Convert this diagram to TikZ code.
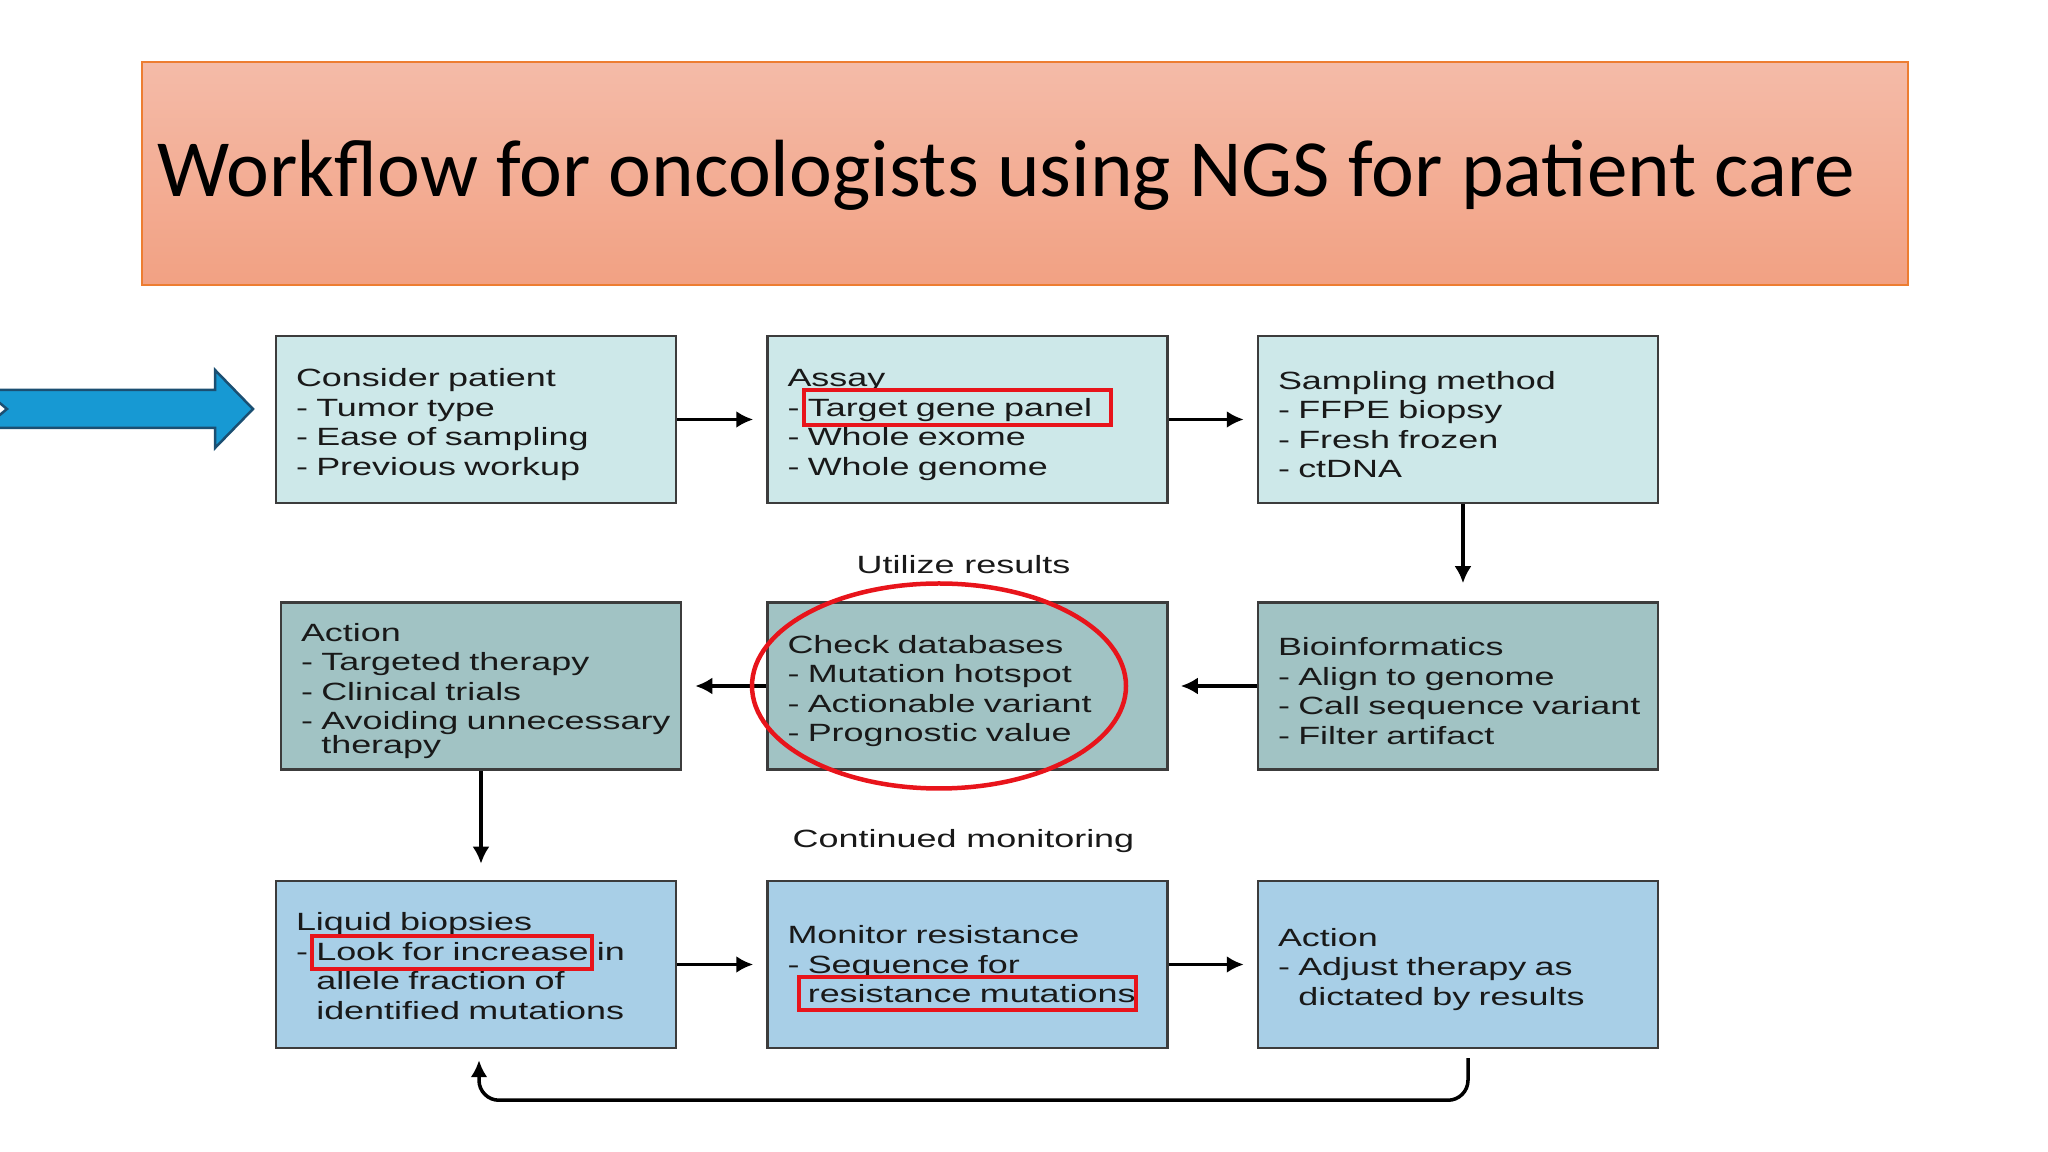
\documentclass[tikz,border=0pt]{standalone}
\usepackage{fontspec}
\setmainfont{Liberation Sans}
\newfontfamily\titlefont{Carlito}
\newfontfamily\boxfont[FakeStretch=1.44]{Liberation Sans}
\usetikzlibrary{positioning,arrows.meta,calc}
\definecolor{paleteal}{HTML}{CDE8E9}
\definecolor{greyteal}{HTML}{A1C3C4}
\definecolor{skyblue}{HTML}{A8CFE7}
\definecolor{titletop}{HTML}{F4BBA8}
\definecolor{titlebottom}{HTML}{F2A183}
\definecolor{titleline}{HTML}{ED7D31}
\definecolor{arrowblue}{HTML}{1799D3}
\definecolor{arrowline}{HTML}{1B4F72}
\definecolor{boxline}{HTML}{3C3C3C}
\definecolor{markred}{HTML}{E8141B}
\newcommand\indnt{\phantom{- }}

\begin{document}
\begin{tikzpicture}[x=0.1mm,y=-0.1mm,
    stepbox/.style={draw=boxline, line width=0.25mm, minimum width=40mm, minimum height=16.7mm, inner xsep=2mm, text width=36mm, align=left, text=black!90, font=\boxfont\fontsize{7.1}{8.4}\selectfont, execute at begin node={\rule{0pt}{#1}}},
    stepbox/.default=8pt,
    note/.style={text=black!90, font=\boxfont\fontsize{7.1}{8.4}\selectfont},
    flow/.style={-{Latex[length=1.7mm,width=1.7mm]}, line width=1pt},
    hilite/.style={draw=markred, line width=0.45mm}]

    \useasboundingbox (0,0) rectangle (2048,1152);

    \node[draw=titleline, line width=0.2mm, top color=titletop, bottom color=titlebottom, minimum width=176.6mm, minimum height=22.3mm, anchor=north west] (banner) at (141,61) {};
    \node[anchor=base west, inner sep=0pt, font=\titlefont\fontsize{23.1}{27}\selectfont] (title) at ([xshift=1.6mm,yshift=-2.35mm]banner.west) {Workflow for oncologists using NGS for patient care};

    \begin{scope}
        \clip (0,0) rectangle (2048,1152);
        \draw[fill=arrowblue, draw=arrowline, line width=0.25mm, line join=miter] (-16,390) -- (215,390) -- (215,370) -- (253,409) -- (215,448) -- (215,428) -- (-16,428) -- (7,409) -- cycle;
    \end{scope}

    \node[stepbox, fill=paleteal] (patient) at (476,419.5) {Consider patient\\- Tumor type\\- Ease of sampling\\- Previous workup};
    \node[stepbox, fill=paleteal, right=8.9mm of patient] (assay) {Assay\\- Target gene panel\\- Whole exome\\- Whole genome};
    \node[stepbox, fill=paleteal, right=8.8mm of assay] (sampling) {Sampling method\\- FFPE biopsy\\- Fresh frozen\\- ctDNA};

    \node[stepbox, fill=greyteal, below=9.7mm of sampling] (bioinfo) {Bioinformatics\\- Align to genome\\\mbox{- Call sequence variant}\\- Filter artifact};
    \node[stepbox, fill=greyteal, below=9.7mm of assay] (databases) {Check databases\\- Mutation hotspot\\- Actionable variant\\- Prognostic value};
    \node[stepbox, fill=greyteal, inner ysep=0.8mm, below=9.7mm of patient, xshift=0.5mm] (action) {Action\\- Targeted therapy\\- Clinical trials\\\mbox{- Avoiding unnecessary}\\[-1.5pt]\indnt therapy};

    \node[stepbox=5pt, fill=skyblue, below=10.9mm of databases] (monitor) {Monitor resistance\\- Sequence for\\\indnt resistance mutations};
    \node[stepbox=6pt, fill=skyblue, left=8.9mm of monitor] (liquid) {Liquid biopsies\\- Look for increase in\\\indnt allele fraction of\\\indnt identified mutations};
    \node[stepbox, fill=skyblue, below=10.9mm of bioinfo] (adjust) {Action\\- Adjust therapy as\\\indnt dictated by results};

    \node[note, anchor=base] (utilize) at ([xshift=-0.4mm,yshift=2.8mm]databases.north) {Utilize results};
    \node[note, anchor=base] (monitoring) at ([xshift=-0.4mm,yshift=3.25mm]monitor.north) {Continued monitoring};

    \draw[flow, shorten >=1.3mm] (patient) -- (assay);
    \draw[flow, shorten >=1.3mm] (assay) -- (sampling);
    \draw[flow, shorten >=1.8mm] ([xshift=0.5mm]sampling.south) -- ([xshift=0.5mm]bioinfo.north);
    \draw[flow, shorten >=1.2mm] (bioinfo) -- (databases);
    \draw[flow, shorten >=1.3mm] (databases) -- (action);
    \draw[flow, shorten >=1.6mm] (action.south) -- (action.south |- liquid.north);
    \draw[flow, shorten >=1.3mm] (liquid) -- (monitor);
    \draw[flow, shorten >=1.3mm] (monitor) -- (adjust);
    \draw[flow, rounded corners=2mm, shorten <=0.9mm, shorten >=1.1mm] ([xshift=1mm]adjust.south) -- ++(0,-5.1mm) -| ([xshift=0.3mm]liquid.south);

    \draw[hilite] (804,390) rectangle (1111,425);
    \draw[hilite] (312,936) rectangle (592,969);
    \draw[hilite] (799,977) rectangle (1136,1010);
    \draw[hilite] (939,686) ellipse [x radius=187, y radius=102.5];
\end{tikzpicture}
\end{document}
